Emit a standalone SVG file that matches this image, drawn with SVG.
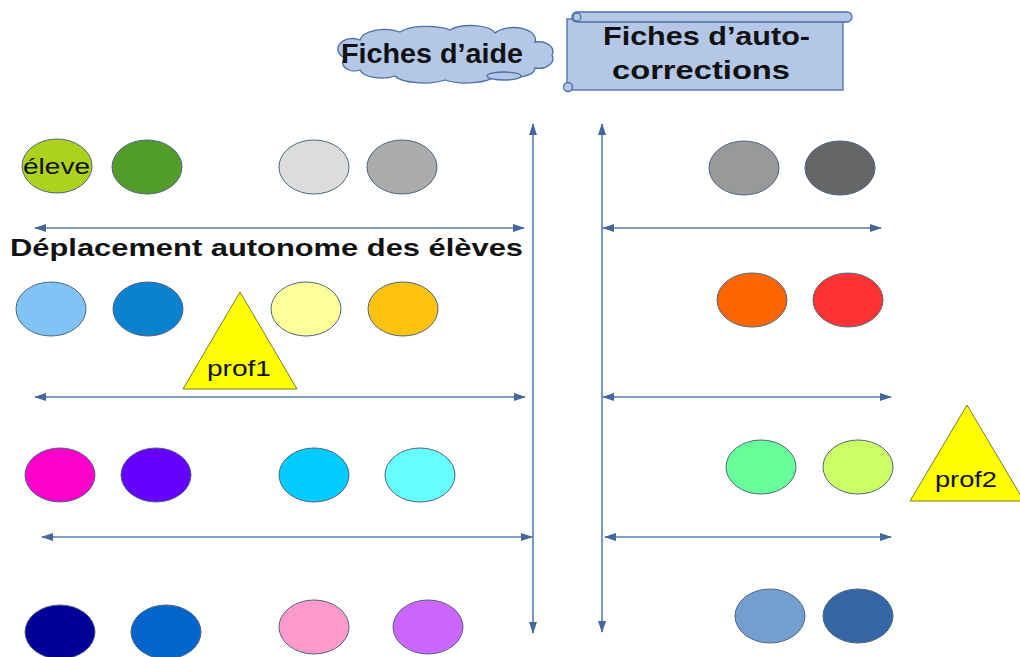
<svg xmlns="http://www.w3.org/2000/svg" width="1020" height="657" viewBox="0 0 1020 657">
<defs>
<marker id="ah" viewBox="0 0 12 8" refX="11" refY="4" markerWidth="12" markerHeight="8" markerUnits="userSpaceOnUse" orient="auto-start-reverse">
<path d="M0,0 L12,4 L0,8 Z" fill="#44689c"/>
</marker>
<style>
.ar{stroke:#5a7cb0;stroke-width:1.6;fill:none;marker-start:url(#ah);marker-end:url(#ah)}
.el{stroke:#4f6580;stroke-width:1}
.tri{fill:#ffff00;stroke:#7a7a30;stroke-width:1}
.t{font-family:"Liberation Sans",Arial,sans-serif;fill:#111}
.b{font-weight:bold}
.sh{fill:#b4c7e7;stroke:#4a6fa5;stroke-width:1.3}
</style>
</defs>
<rect width="1020" height="657" fill="#ffffff"/>

<g id="connectors">
<line class="ar" x1="533" y1="124" x2="533" y2="633"/>
<line class="ar" x1="602" y1="124" x2="602" y2="632"/>
<line class="ar" x1="35" y1="228" x2="524" y2="228"/>
<line class="ar" x1="603" y1="228" x2="881" y2="228"/>
<line class="ar" x1="35" y1="397" x2="525" y2="397"/>
<line class="ar" x1="603" y1="397" x2="891" y2="397"/>
<line class="ar" x1="42" y1="537" x2="532" y2="537"/>
<line class="ar" x1="605" y1="537" x2="891" y2="537"/>
</g>

<g id="fiches-aide">
<path class="sh" d="M345,58 A14,10 0 0 1 360,40 A25,12 0 0 1 400,32 A30,10 0 0 1 450,30 A25,10 0 0 1 495,33 A22,12 0 0 1 535,42 A14,10 0 0 1 552,55 A14,10 0 0 1 535,68 A25,10 0 0 1 495,76 A30,10 0 0 1 445,80 A30,10 0 0 1 395,76 A22,10 0 0 1 360,70 A12,8 0 0 1 345,58 Z"/>
<ellipse class="sh" cx="504" cy="76" rx="17" ry="4"/>
<text class="t b" x="341" y="63" font-size="27" textLength="182" lengthAdjust="spacingAndGlyphs">Fiches d’aide</text>
</g>

<g id="fiches-auto">
<rect class="sh" x="567" y="19" width="276" height="71"/>
<rect class="sh" x="572" y="12" width="280" height="10" rx="5"/>
<circle class="sh" cx="577" cy="17" r="4"/>
<circle class="sh" cx="568" cy="87" r="4.5"/>
<text class="t b" x="603" y="45" font-size="25" textLength="207" lengthAdjust="spacingAndGlyphs">Fiches d’auto-</text>
<text class="t b" x="612" y="79" font-size="25" textLength="178" lengthAdjust="spacingAndGlyphs">corrections</text>
</g>

<g id="deplacement">
<text class="t b" x="10" y="256" font-size="24" textLength="513" lengthAdjust="spacingAndGlyphs">Déplacement autonome des élèves</text>
</g>

<g id="eleve"><ellipse class="el" cx="57" cy="166" rx="35" ry="27" fill="#acd21e"/>
<text class="t" x="23" y="174" font-size="22" textLength="67" lengthAdjust="spacingAndGlyphs">éleve</text></g>
<g id="e1-2"><ellipse class="el" cx="147" cy="167" rx="35" ry="27" fill="#529c2a"/></g>
<g id="e1-3"><ellipse class="el" cx="314" cy="167" rx="35" ry="27" fill="#dcdcdc"/></g>
<g id="e1-4"><ellipse class="el" cx="402" cy="167" rx="35" ry="27" fill="#ababab"/></g>
<g id="e1-5"><ellipse class="el" cx="744" cy="168" rx="35" ry="27" fill="#999999"/></g>
<g id="e1-6"><ellipse class="el" cx="840" cy="168" rx="35" ry="27" fill="#666666"/></g>

<g id="e2-1"><ellipse class="el" cx="51" cy="309" rx="35" ry="27" fill="#80c4f5"/></g>
<g id="e2-2"><ellipse class="el" cx="148" cy="309" rx="35" ry="27" fill="#0a82d0"/></g>
<g id="e2-3"><ellipse class="el" cx="306" cy="309" rx="35" ry="27" fill="#ffff99"/></g>
<g id="e2-4"><ellipse class="el" cx="403" cy="309" rx="35" ry="27" fill="#ffc20e"/></g>
<g id="e2-5"><ellipse class="el" cx="752" cy="300" rx="35" ry="27" fill="#ff6600"/></g>
<g id="e2-6"><ellipse class="el" cx="848" cy="300" rx="35" ry="27" fill="#ff3333"/></g>

<g id="prof1"><polygon class="tri" points="240,292 183,389 297,389"/>
<text class="t" x="207" y="376" font-size="22" textLength="64" lengthAdjust="spacingAndGlyphs">prof1</text></g>

<g id="e3-1"><ellipse class="el" cx="60" cy="475" rx="35" ry="27" fill="#ff00cc"/></g>
<g id="e3-2"><ellipse class="el" cx="156" cy="475" rx="35" ry="27" fill="#6600ff"/></g>
<g id="e3-3"><ellipse class="el" cx="314" cy="475" rx="35" ry="27" fill="#00ccff"/></g>
<g id="e3-4"><ellipse class="el" cx="420" cy="475" rx="35" ry="27" fill="#66ffff"/></g>
<g id="e3-5"><ellipse class="el" cx="761" cy="467" rx="35" ry="27" fill="#66ff99"/></g>
<g id="e3-6"><ellipse class="el" cx="858" cy="467" rx="35" ry="27" fill="#ccff66"/></g>

<g id="prof2"><polygon class="tri" points="967,405 910,501 1024,501"/>
<text class="t" x="935" y="487" font-size="22" textLength="62" lengthAdjust="spacingAndGlyphs">prof2</text></g>

<g id="e4-1"><ellipse class="el" cx="60" cy="632" rx="35" ry="27" fill="#000099"/></g>
<g id="e4-2"><ellipse class="el" cx="166" cy="632" rx="35" ry="27" fill="#0066cc"/></g>
<g id="e4-3"><ellipse class="el" cx="314" cy="627" rx="35" ry="27" fill="#ff99cc"/></g>
<g id="e4-4"><ellipse class="el" cx="428" cy="627" rx="35" ry="27" fill="#cc66ff"/></g>
<g id="e4-5"><ellipse class="el" cx="770" cy="616" rx="35" ry="27" fill="#729fcf"/></g>
<g id="e4-6"><ellipse class="el" cx="858" cy="616" rx="35" ry="27" fill="#3465a4"/></g>
</svg>
